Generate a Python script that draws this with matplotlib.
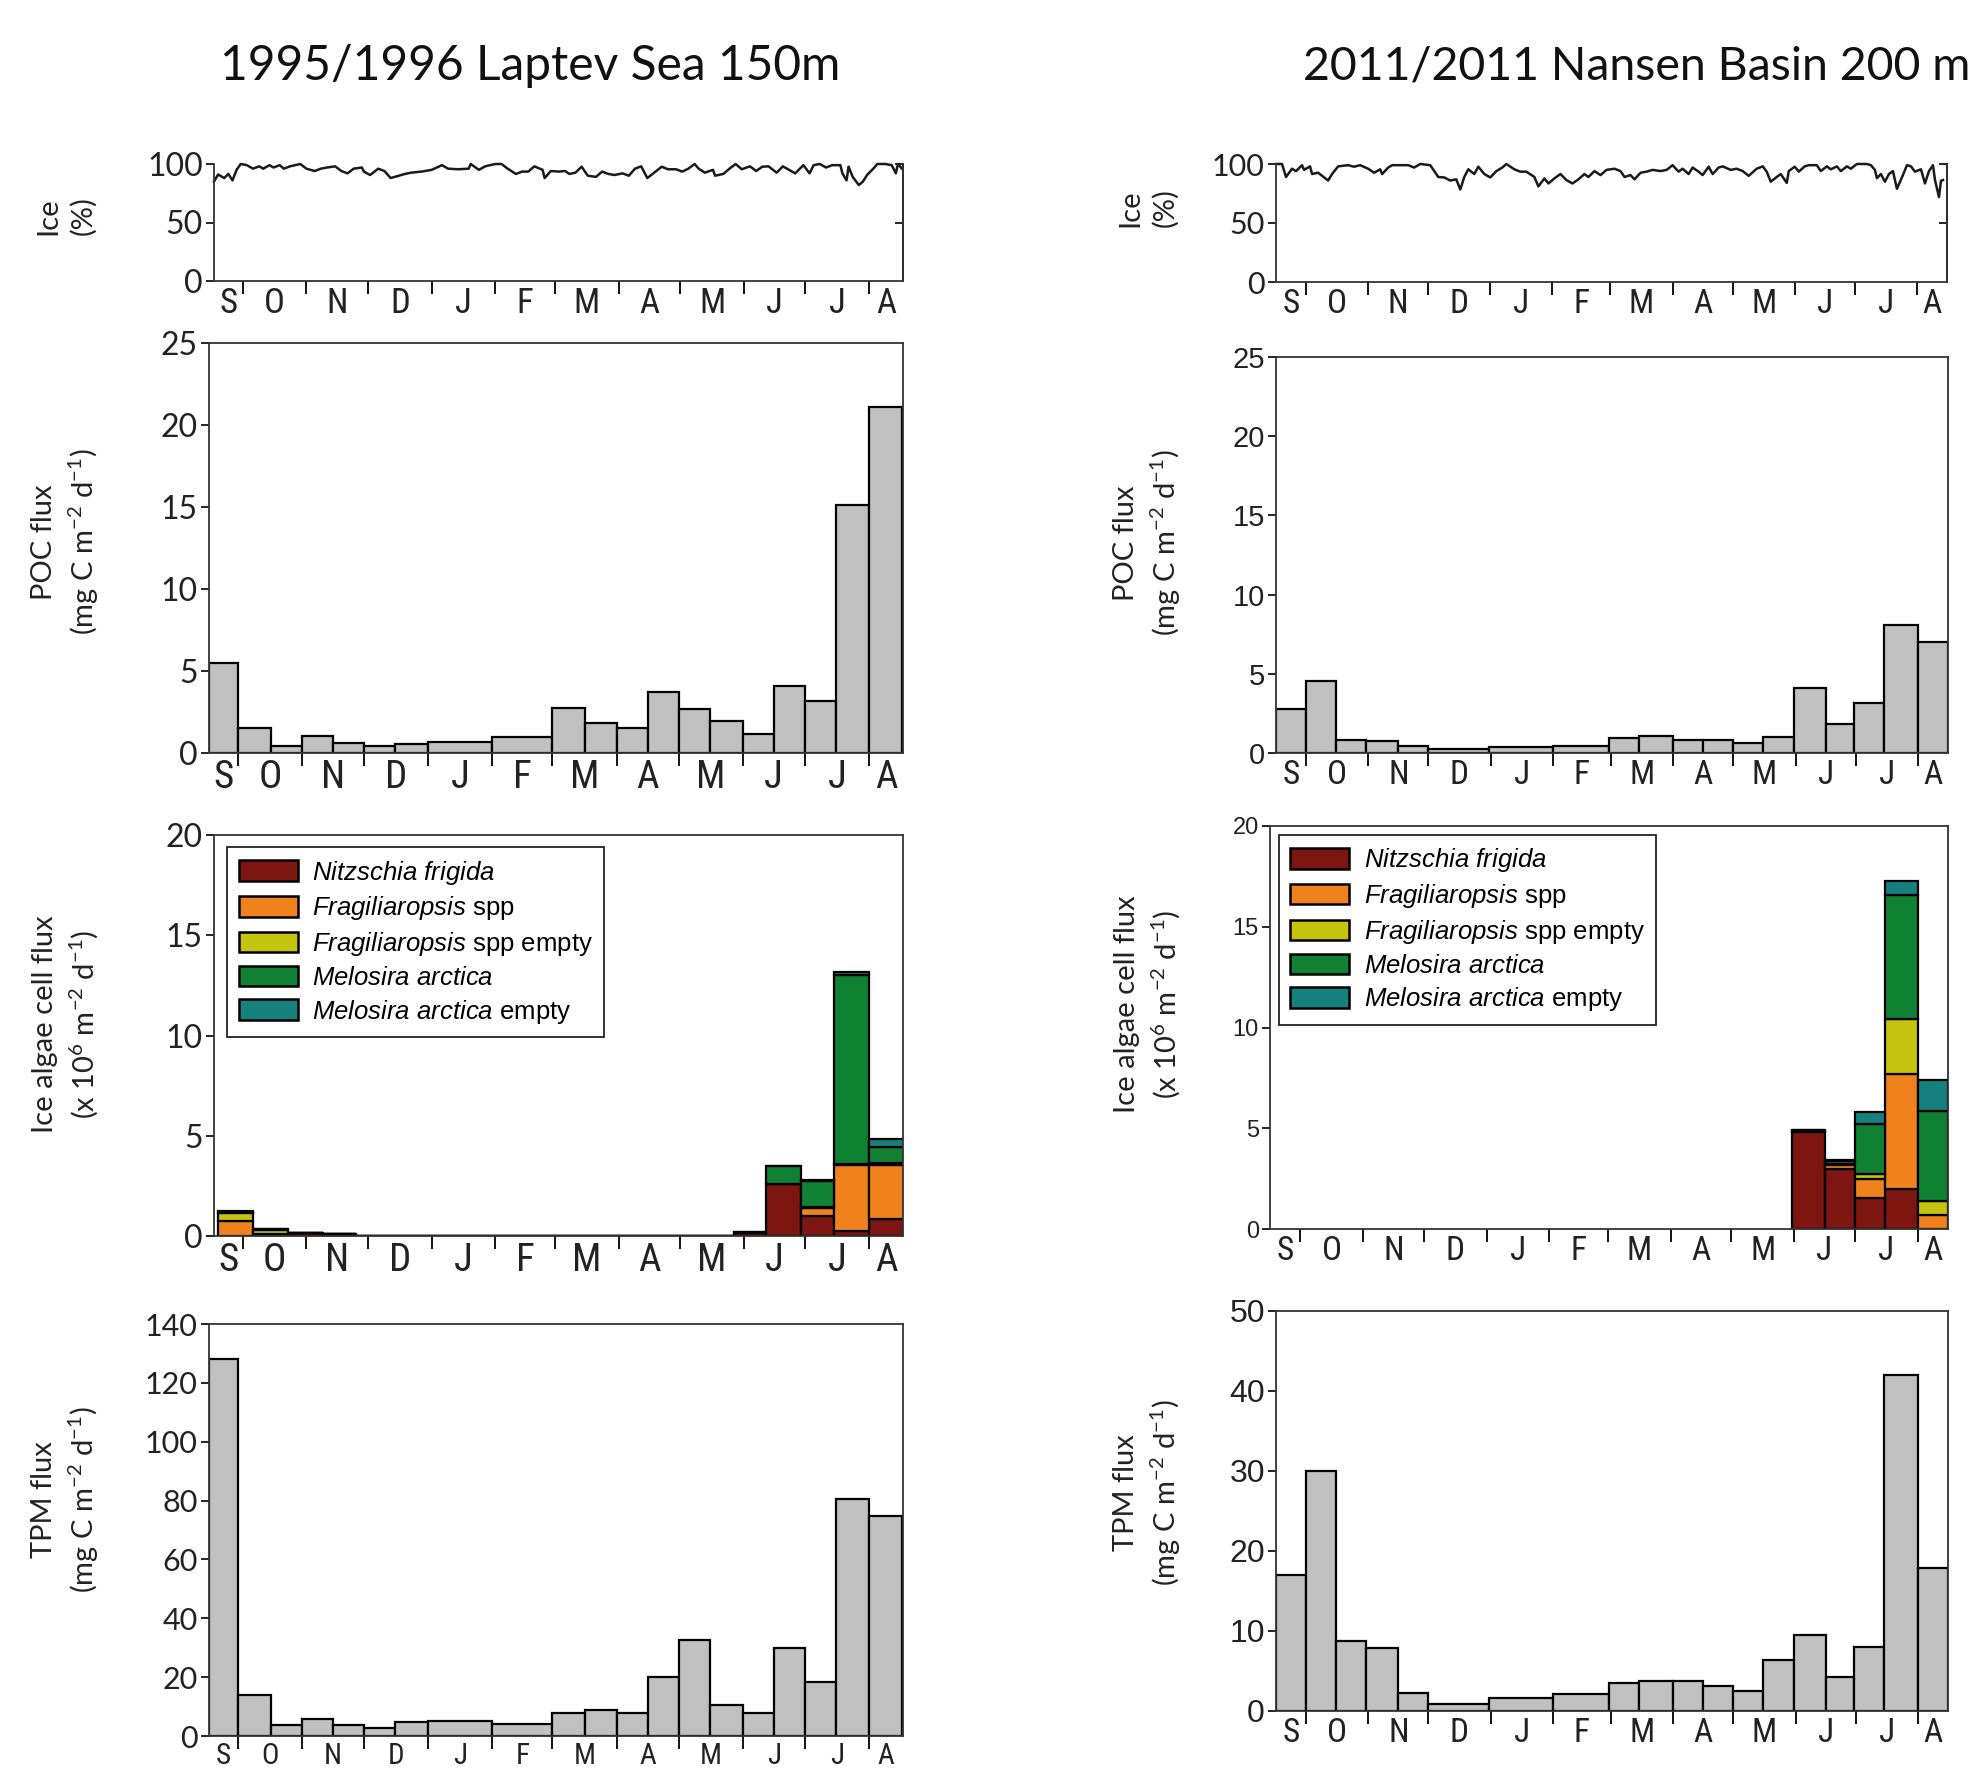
import numpy as np
import matplotlib
matplotlib.use("Agg")
import matplotlib.pyplot as plt
from matplotlib import font_manager
from matplotlib.patches import Patch


def pick_font(names):
    for n in names:
        try:
            font_manager.findfont(n, fallback_to_default=False)
            return n
        except Exception:
            pass
    return "DejaVu Sans"


SANS = pick_font(["Lato", "Open Sans", "DejaVu Sans"])
NARROW = pick_font(["Liberation Sans Narrow", "Roboto Condensed", "DejaVu Sans"])
ARIAL = pick_font(["Liberation Sans", "DejaVu Sans"])

plt.rcParams["font.family"] = [SANS, "DejaVu Sans"]
plt.rcParams["mathtext.fontset"] = "custom"
plt.rcParams["mathtext.it"] = ARIAL + ":italic"
plt.rcParams["mathtext.rm"] = ARIAL
plt.rcParams["mathtext.default"] = "regular"

# x axis: days since 1 September (leap-year February)
month_starts = [0, 30, 61, 91, 122, 153, 182, 213, 243, 274, 304, 335, 366]
month_letters = ["S", "O", "N", "D", "J", "F", "M", "A", "M", "J", "J", "A"]

# ---------------- 1995/1996 Laptev Sea 150 m ----------------
lap_ice_days = [16, 18, 21, 23, 25, 27, 29, 32, 35, 38, 40, 43, 45, 48, 50, 53, 58, 61, 65, 68,
                71, 75, 78, 81, 84, 88, 89, 92, 96, 99, 102, 106, 109, 112, 117, 122, 127, 130,
                135, 140, 141, 145, 148, 153, 156, 159, 163, 166, 169, 172, 176, 177, 180, 184,
                187, 189, 192, 195, 198, 202, 205, 208, 211, 215, 218, 221, 224, 227, 231, 234,
                237, 241, 244, 247, 250, 252, 255, 259, 260, 264, 267, 270, 273, 277, 280, 283,
                286, 290, 293, 296, 299, 303, 306, 308, 311, 314, 317, 321, 322, 324, 325, 327,
                330, 332, 334, 337, 339, 343, 346, 348, 349, 351]
lap_ice = [85, 91, 88, 91.5, 86, 95, 100, 99, 96, 98, 96, 99, 97, 99, 96, 98, 100, 96, 94, 96,
           97, 98, 94, 92, 96, 97, 93.5, 90.6, 96, 94, 88, 90, 91.5, 92.6, 93.5, 95, 99, 96,
           95.5, 96, 100, 95, 98, 100, 100, 96, 91.5, 93.5, 93.5, 98, 95, 88, 94, 93.5,
           94, 91.5, 92.6, 97.7, 90, 89, 93.5, 91.5, 90.6, 92, 90, 96, 98, 88, 93.5, 97.7,
           95.5, 95.5, 93.5, 96, 100, 96, 92.6, 95, 90, 91.5, 96, 100, 95.5, 98, 94, 97.7,
           98, 92.6, 98, 95, 92, 99, 92, 99, 100, 97, 99, 99, 92, 86, 97.7, 89,
           82, 85, 90.6, 96, 100, 100, 99, 92, 100, 96]

lap_bin_edges = [16, 30, 46, 61, 76, 91, 106, 122, 153, 182, 198, 213, 228, 243, 258, 274,
                 289, 304, 319, 335, 351]
lap_poc = [5.5, 1.5, 0.45, 1.05, 0.6, 0.4, 0.55, 0.7, 0.95, 2.75, 1.85, 1.5, 3.75, 2.7,
           1.95, 1.15, 4.1, 3.2, 15.1, 21.1]
lap_tpm = [128, 14, 3.9, 5.9, 3.9, 2.8, 4.8, 5.1, 4.1, 7.8, 8.9, 7.8, 20, 32.5, 10.6, 7.8,
           29.9, 18.3, 80.6, 74.6]

lap_alg_edges = [18, 35, 52, 69, 85, 102, 119, 135, 152, 169, 185, 202, 219, 235, 252, 269,
                 285, 302, 318, 335, 352]
lap_nitz = [0.02, 0.05, 0.15, 0.08, 0, 0, 0, 0, 0, 0, 0, 0, 0, 0, 0, 0.15, 2.6, 1.0, 0.25, 0.83]
lap_frag = [0.72, 0.05, 0, 0, 0, 0, 0, 0, 0, 0, 0, 0, 0, 0, 0, 0, 0, 0.4, 3.3, 2.7]
lap_frag_e = [0.42, 0.2, 0, 0, 0, 0, 0, 0, 0, 0, 0, 0, 0, 0, 0, 0, 0, 0.05, 0.05, 0.1]
lap_mel = [0.06, 0.03, 0, 0, 0, 0, 0, 0, 0, 0, 0, 0, 0, 0, 0, 0.05, 0.9, 1.3, 9.4, 0.8]
lap_mel_e = [0.03, 0, 0, 0, 0, 0, 0, 0, 0, 0, 0, 0, 0, 0, 0, 0, 0, 0.05, 0.15, 0.4]

# ---------------- 2011/2012 Nansen Basin 200 m ----------------
nan_ice_days = [15, 18, 20, 23, 25, 28, 29, 32, 33, 36, 38, 41, 43, 46, 51, 54, 57, 61, 64, 67,
                68, 71, 73, 76, 81, 84, 87, 92, 96, 99, 102, 105, 107, 109, 111, 114, 116, 119,
                122, 125, 128, 130, 134, 137, 140, 144, 146, 149, 151, 154, 157, 160, 163, 166,
                169, 171, 174, 177, 180, 184, 187, 189, 192, 194, 197, 200, 203, 207, 210, 213,
                216, 218, 221, 223, 226, 228, 231, 233, 236, 238, 242, 245, 248, 251, 255, 258,
                260, 262, 265, 267, 270, 271, 274, 276, 279, 281, 285, 287, 290, 292, 295, 297,
                300, 302, 305, 310, 312, 314, 315, 317, 319, 321, 323, 325, 328, 330, 332, 334,
                337, 339, 341, 343, 344, 346, 347, 348]
nan_ice = [100, 100, 89, 96, 94, 99, 95, 98, 91.5, 92.6, 90, 86, 91.5, 98, 99, 97.7, 99, 96,
           92.6, 95.5, 91.5, 97, 99, 99, 99, 97, 100, 99, 89, 88.6, 86, 87, 78.4, 89, 95.5,
           91.5, 97.7, 91.5, 88.6, 94, 97, 100, 95.5, 93.5, 93.5, 89, 81, 87.8, 83.5, 87.8,
           91.5, 86.4, 83.5, 87, 91.5, 89, 94, 90.6, 95, 96, 94, 89, 90.6, 87, 92.6, 93.5, 95,
           94, 95, 99, 93.5, 96, 91.5, 97, 93.5, 90.6, 97.7, 91.5, 97, 98, 95, 96, 94, 90, 96,
           98, 93.5, 85, 89, 91.5, 84, 94, 97.7, 93.5, 98, 99, 99, 94, 98, 95.5, 98, 94, 98,
           96, 100, 100, 99, 95, 88, 91.5, 85, 91.5, 94, 79, 90.6, 99, 98, 93.5, 95.5, 83.5,
           94, 99, 86.4, 72, 85.8, 86.4]

nan_bin_edges = [15, 30, 45, 60, 76, 91, 121, 153, 181, 196, 213, 228, 243, 258, 273, 289,
                 303, 318, 335, 350]
nan_poc = [2.8, 4.55, 0.83, 0.73, 0.42, 0.27, 0.35, 0.42, 0.94, 1.1, 0.83, 0.83, 0.62, 1.0,
           4.1, 1.83, 3.16, 8.07, 7.0]
nan_tpm = [17.0, 30.0, 8.8, 7.9, 2.2, 0.9, 1.6, 2.1, 3.5, 3.8, 3.8, 3.1, 2.5, 6.4, 9.5, 4.2,
           8.0, 42.0, 17.9]

nan_alg_edges = [273, 289, 304, 319, 335, 350]
nan_nitz = [4.8, 3.0, 1.55, 2.0, 0]
nan_frag = [0.05, 0.2, 0.95, 5.7, 0.7]
nan_frag_e = [0, 0.05, 0.25, 2.7, 0.67]
nan_mel = [0.05, 0.1, 2.45, 6.2, 4.5]
nan_mel_e = [0.03, 0.05, 0.6, 0.65, 1.52]

species_names = [r"$\it{Nitzschia\ frigida}$", r"$\it{Fragiliaropsis}$ spp",
                 r"$\it{Fragiliaropsis}$ spp empty", r"$\it{Melosira\ arctica}$",
                 r"$\it{Melosira\ arctica}$ empty"]
species_colors = ["#7d1511", "#ef821d", "#c4c30d", "#108033", "#16807e"]

GRAY = "#c0c0c0"

fig = plt.figure(figsize=(19.77, 17.73), dpi=100)


def add_axes(px):
    # px = (left, top, right, bottom) in figure pixels
    l, t, r, b = px
    return fig.add_axes([l / 1977, 1 - b / 1773, (r - l) / 1977, (b - t) / 1773])


def month_axis(ax, xlim, size, font, pad=4):
    ax.set_xlim(xlim)
    ax.set_xticks(month_starts[1:12])
    ax.set_xticklabels([])
    ax.tick_params(axis="x", which="major", direction="out", length=9, width=1.3)
    mids = []
    for i in range(12):
        a = max(month_starts[i], xlim[0])
        b = min(month_starts[i + 1], xlim[1])
        mids.append((a + b) / 2)
    ax.set_xticks(mids, minor=True)
    ax.set_xticklabels(month_letters, minor=True, fontsize=size, family=font,
                       fontstretch="condensed", color="#222222")
    ax.tick_params(axis="x", which="minor", length=0, pad=pad)


def style_y(ax, ticks, size, font):
    ax.set_yticks(ticks)
    ax.set_yticklabels([str(t) for t in ticks], fontsize=size, family=font, color="#222222")
    ax.tick_params(axis="y", direction="out", length=6, width=1.2, pad=2)
    for s in ax.spines.values():
        s.set_linewidth(1.3)
        s.set_color("#333333")


def ice_panel(ax, days, ice, xlim, tick_font, tick_size, mon_size):
    ax.plot(days, ice, color="#1a1a1a", lw=1.8, clip_on=False)
    ax.set_ylim(0, 100)
    ax.spines["top"].set_visible(False)
    style_y(ax, [0, 50, 100], tick_size, tick_font)
    month_axis(ax, xlim, mon_size, NARROW)
    # short inward marks on the right-hand frame
    sec = ax.secondary_yaxis("right")
    sec.set_yticks([50, 100])
    sec.set_yticklabels([])
    sec.tick_params(direction="in", length=6, width=1.2)
    sec.spines["right"].set_linewidth(1.3)


def bar_panel(ax, edges, vals, xlim, ylim, yticks, tick_font, tick_size, mon_size):
    edges = np.array(edges, dtype=float)
    ax.bar(edges[:-1], vals, width=np.diff(edges), align="edge", color=GRAY,
           edgecolor="black", linewidth=1.6)
    ax.set_ylim(ylim)
    style_y(ax, yticks, tick_size, tick_font)
    month_axis(ax, xlim, mon_size, NARROW)


def algae_panel(ax, edges, stacks, xlim, yticks, tick_font, tick_size, mon_size, anchor):
    edges = np.array(edges, dtype=float)
    bottom = np.zeros(len(edges) - 1)
    for vals, col in zip(stacks, species_colors):
        vals = np.array(vals, dtype=float)
        ax.bar(edges[:-1], vals, width=np.diff(edges), bottom=bottom, align="edge",
               color=col, edgecolor="black", linewidth=1.6)
        bottom = bottom + vals
    ax.set_ylim(0, 20)
    style_y(ax, yticks, tick_size, tick_font)
    month_axis(ax, xlim, mon_size, NARROW)
    handles = [Patch(facecolor=c, edgecolor="black", linewidth=1.8) for c in species_colors]
    leg = ax.legend(handles, species_names, loc="upper left", bbox_to_anchor=anchor,
                    borderaxespad=0, fancybox=False, framealpha=1, edgecolor="#222222",
                    prop={"family": ARIAL, "size": 18.5}, handlelength=2.3, handleheight=0.85,
                    handletextpad=0.55, labelspacing=0.3, borderpad=0.45)
    leg.get_frame().set_linewidth(1.3)


def ylabel(x, y, text, size=21):
    fig.text(x / 1977, 1 - y / 1773, text, rotation=90, ha="center", va="center",
             fontsize=size, multialignment="center", linespacing=1.35, color="#222222")


lap_xlim = (16, 351.5)
nan_xlim = (15, 350)

# left column
ax = add_axes((214, 164, 903, 281))
ice_panel(ax, lap_ice_days, lap_ice, lap_xlim, SANS, 23, 25)

ax = add_axes((209, 343, 903, 753))
bar_panel(ax, lap_bin_edges, lap_poc, lap_xlim, (0, 25), [0, 5, 10, 15, 20, 25], SANS, 23, 28)

ax = add_axes((214, 835, 903, 1236))
algae_panel(ax, lap_alg_edges, [lap_nitz, lap_frag, lap_frag_e, lap_mel, lap_mel_e],
            lap_xlim, [0, 5, 10, 15, 20], SANS, 23, 28, (0.019, 0.970))

ax = add_axes((209, 1324, 903, 1736))
bar_panel(ax, lap_bin_edges, lap_tpm, lap_xlim, (0, 140), [0, 20, 40, 60, 80, 100, 120, 140],
          SANS, 22, 21)

# right column
ax = add_axes((1276, 164, 1947, 282))
ice_panel(ax, nan_ice_days, nan_ice, nan_xlim, SANS, 22, 24)

ax = add_axes((1276, 357, 1948, 753))
bar_panel(ax, nan_bin_edges, nan_poc, nan_xlim, (0, 25), [0, 5, 10, 15, 20, 25], ARIAL, 21, 24)

ax = add_axes((1270, 826, 1948, 1229))
algae_panel(ax, nan_alg_edges, [nan_nitz, nan_frag, nan_frag_e, nan_mel, nan_mel_e],
            nan_xlim, [0, 5, 10, 15, 20], ARIAL, 17, 24, (0.013, 0.978))

ax = add_axes((1276, 1311, 1948, 1711))
bar_panel(ax, nan_bin_edges, nan_tpm, nan_xlim, (0, 50), [0, 10, 20, 30, 40, 50], ARIAL, 23, 24)

# titles
fig.text(530 / 1977, 1 - 66 / 1773, "1995/1996 Laptev Sea 150m", ha="center", va="center",
         fontsize=34.5, color="#111111")
fig.text(1970 / 1977, 1 - 66 / 1773, "2011/2011 Nansen Basin 200 m", ha="right", va="center",
         fontsize=33.5, color="#111111")

# y labels
mg = "(mg C m$^{-2}$ d$^{-1}$)"
ylabel(66, 216, "Ice\n(%)")
ylabel(66, 542, "POC flux\n" + mg)
ylabel(66, 1024, "Ice algae cell flux\n(x 10$^{6}$ m$^{-2}$ d$^{-1}$)")
ylabel(66, 1500, "TPM flux\n" + mg)
ylabel(1148, 208, "Ice\n(%)")
ylabel(1148, 543, "POC flux\n" + mg)
ylabel(1148, 1004, "Ice algae cell flux\n(x 10$^{6}$ m$^{-2}$ d$^{-1}$)")
ylabel(1148, 1493, "TPM flux\n" + mg)

fig.savefig("out.png", dpi=100)
